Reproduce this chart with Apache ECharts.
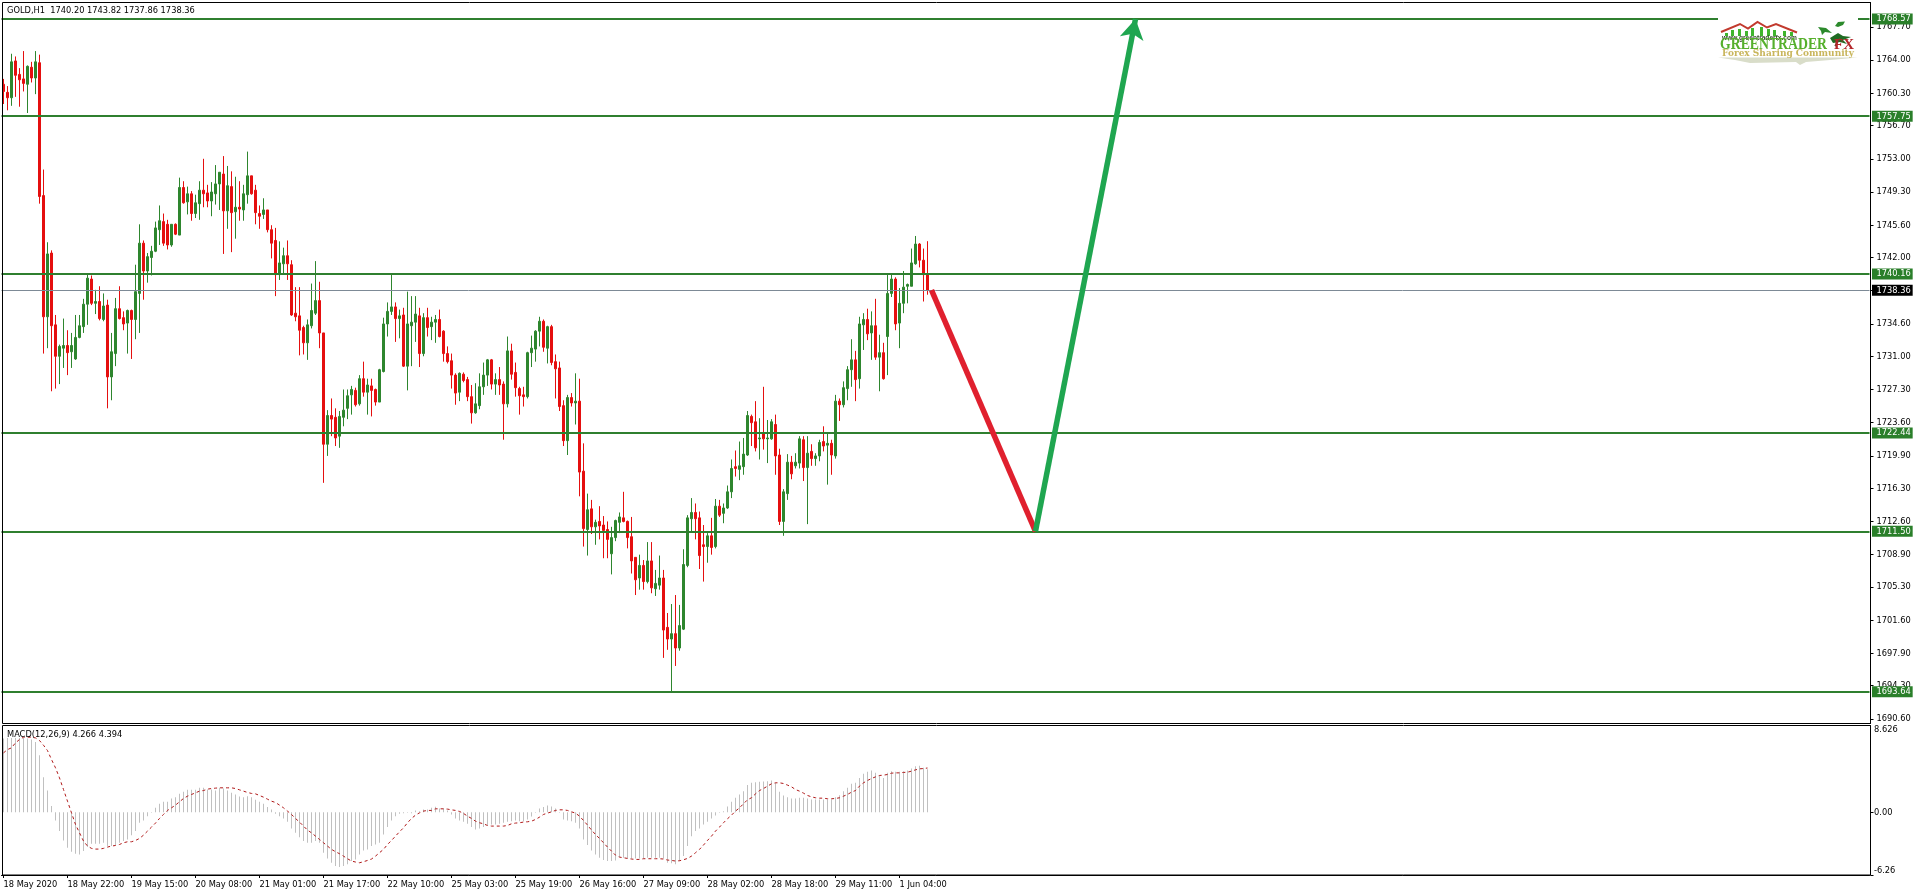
<!DOCTYPE html>
<html><head><meta charset="utf-8">
<style>html,body{margin:0;padding:0;background:#fff}#c{width:1916px;height:896px}</style>
<script src="https://cdn.jsdelivr.net/npm/echarts@6/dist/echarts.min.js"></script>
</head><body><div id="c"></div>
<script>
const opens=[
1761.3,1760.4,1759.8,1763.9,1762.4,1761.9,1761.3,1763.2,1762.0,1763.7,
1748.9,1735.4,1742.5,1734.5,1731.0,1731.9,1732.2,1731.5,1730.7,1733.1,
1734.3,1736.8,1739.6,1736.9,1737.1,1735.1,1736.7,1728.7,1731.3,1736.3,
1735.3,1734.7,1736.1,1735.1,1738.0,1743.6,1740.5,1742.0,1742.7,1745.1,
1746.0,1745.7,1743.4,1745.7,1744.5,1749.8,1748.2,1749.1,1746.9,1748.0,
1749.5,1749.2,1748.3,1749.1,1750.2,1751.3,1747.2,1749.9,1747.1,1747.6,
1747.3,1749.0,1751.1,1749.5,1746.9,1746.8,1747.3,1745.1,1743.9,1740.1,
1741.3,1742.2,1741.2,1735.8,1735.5,1734.2,1732.5,1734.4,1735.8,1737.2,
1733.6,1721.2,1724.4,1724.2,1722.1,1724.2,1725.2,1726.7,1727.2,1725.7,
1728.5,1727.0,1727.7,1727.3,1725.9,1729.3,1734.6,1736.0,1736.5,1735.2,
1735.6,1729.9,1734.4,1734.8,1735.5,1731.3,1735.3,1734.3,1734.8,1735.1,
1733.8,1731.3,1730.5,1728.9,1727.0,1729.0,1728.4,1726.5,1724.7,1725.5,
1727.6,1728.9,1730.6,1727.9,1728.4,1727.9,1725.7,1731.6,1729.2,1727.4,
1726.7,1726.5,1731.4,1731.8,1733.8,1734.9,1731.9,1734.3,1730.4,1729.7,
1725.5,1721.6,1726.4,1725.8,1726.0,1718.2,1711.7,1714.0,1712.0,1712.6,
1712.2,1711.7,1709.0,1710.8,1712.5,1713.0,1712.6,1710.9,1708.6,1706.3,
1707.7,1705.9,1708.2,1705.1,1705.5,1706.3,1700.8,1699.5,1700.1,1698.5,
1700.6,1707.7,1712.9,1713.6,1713.0,1710.0,1709.8,1711.0,1709.8,1714.3,
1713.5,1714.1,1715.9,1718.7,1718.4,1718.7,1720.0,1724.3,1723.7,1721.8,
1722.4,1721.8,1721.8,1723.4,1720.0,1712.6,1715.7,1719.2,1718.8,1719.1,
1721.7,1718.6,1720.4,1719.6,1719.9,1721.5,1721.1,1721.3,1719.9,1726.0,
1725.6,1727.4,1729.5,1730.6,1728.5,1734.5,1735.1,1733.6,1734.4,1730.9,
1731.4,1733.2,1738.0,1739.6,1734.7,1736.9,1738.8,1738.8,1741.3,1743.5,1741.7,1740.20];
const closes=[
1760.5,1759.8,1763.8,1762.3,1761.8,1761.4,1763.3,1762.0,1763.8,1748.8,
1735.4,1742.4,1734.4,1731.0,1732.1,1732.2,1731.4,1732.2,1733.1,1734.4,
1736.8,1739.7,1736.9,1737.1,1735.2,1736.6,1728.7,1731.5,1736.3,1735.2,
1734.6,1736.1,1735.1,1738.2,1743.6,1740.5,1742.1,1742.7,1745.3,1746.1,
1743.6,1743.4,1745.7,1744.6,1749.8,1748.1,1749.1,1746.9,1748.1,1749.5,
1749.1,1748.3,1749.3,1750.2,1751.5,1747.2,1750.0,1747.0,1747.6,1747.4,
1749.1,1751.1,1749.1,1747.0,1746.6,1747.3,1745.1,1743.6,1740.1,1741.4,
1742.2,1741.3,1735.6,1735.4,1733.9,1732.5,1734.5,1736.1,1737.2,1733.6,
1721.2,1724.4,1724.0,1721.9,1724.3,1725.0,1726.6,1727.3,1725.6,1728.5,
1727.0,1727.8,1727.2,1725.9,1729.5,1734.6,1736.0,1736.5,1735.2,1735.5,
1729.9,1734.6,1734.8,1735.7,1731.3,1735.3,1734.2,1734.8,1735.1,1733.2,
1731.3,1730.4,1728.9,1726.9,1729.1,1728.3,1726.5,1724.7,1725.7,1727.6,
1728.9,1730.6,1727.9,1728.4,1727.8,1725.7,1731.6,1729.0,1727.5,1726.6,
1726.5,1731.4,1731.9,1733.8,1734.9,1732.0,1734.3,1730.3,1729.6,1725.4,
1721.6,1726.4,1725.8,1726.0,1718.1,1711.8,1713.9,1712.0,1712.5,1712.1,
1711.6,1710.6,1710.8,1712.7,1713.1,1712.6,1710.8,1708.2,1706.1,1707.7,
1705.9,1708.2,1705.2,1705.7,1706.3,1700.5,1699.5,1700.1,1698.5,1701.0,
1707.8,1713.0,1713.6,1712.9,1708.8,1709.8,1711.0,1709.7,1714.3,1713.3,
1714.1,1715.9,1718.5,1718.5,1718.8,1720.1,1724.4,1723.6,1720.8,1721.9,
1721.8,1721.9,1723.7,1719.9,1712.6,1715.9,1719.2,1717.9,1719.2,1721.8,
1718.6,1720.2,1719.6,1719.9,1721.4,1721.0,1721.3,1720.0,1726.0,1725.6,
1727.5,1729.5,1730.6,1728.4,1734.6,1735.1,1733.5,1734.4,1730.9,1731.4,
1728.5,1738.0,1739.6,1734.6,1736.9,1738.7,1739.0,1741.4,1743.5,1741.7,1740.1,1738.36];
const lows=[
1759.1,1758.4,1758.9,1759.9,1758.8,1760.5,1758.1,1761.5,1760.2,1748.0,
1731.3,1731.9,1727.1,1727.4,1727.9,1729.7,1728.9,1729.7,1730.6,1733.0,
1733.6,1734.5,1736.7,1735.7,1735.0,1734.9,1725.2,1726.1,1729.9,1735.1,
1733.9,1731.3,1730.7,1732.9,1733.6,1737.3,1739.2,1740.0,1742.6,1743.4,
1743.3,1742.9,1743.2,1744.5,1744.5,1748.0,1746.8,1746.1,1746.4,1746.2,
1747.6,1747.6,1746.6,1747.9,1747.3,1742.4,1745.2,1742.6,1744.1,1746.1,
1746.1,1748.0,1749.0,1745.7,1745.2,1746.3,1744.8,1741.9,1737.7,1739.5,
1740.2,1739.5,1735.5,1734.9,1731.1,1731.2,1730.6,1734.1,1735.6,1731.9,
1716.9,1719.9,1722.1,1721.0,1720.8,1723.2,1724.0,1724.5,1725.4,1725.5,
1726.5,1724.5,1724.3,1725.5,1725.9,1729.2,1733.2,1735.6,1732.6,1733.0,
1729.8,1727.2,1729.9,1732.6,1729.8,1731.0,1733.2,1732.8,1732.5,1733.1,
1730.4,1730.2,1727.4,1725.6,1726.0,1728.1,1726.0,1723.5,1724.6,1725.1,
1726.7,1727.7,1727.3,1726.7,1726.7,1721.7,1725.3,1728.4,1726.5,1724.5,
1725.4,1726.3,1729.8,1730.4,1732.1,1731.5,1730.2,1730.0,1726.3,1724.9,
1721.0,1720.0,1725.4,1723.4,1715.4,1709.8,1708.8,1711.2,1710.0,1710.6,
1708.5,1708.5,1706.7,1710.4,1711.3,1712.5,1709.6,1706.8,1704.4,1705.0,
1705.0,1705.7,1704.6,1704.3,1705.0,1697.4,1698.3,1693.7,1696.5,1698.2,
1700.5,1707.5,1711.5,1710.6,1707.3,1705.9,1708.0,1708.9,1709.6,1713.1,
1712.4,1714.0,1715.2,1717.6,1717.2,1717.8,1719.9,1721.0,1720.4,1719.5,
1720.6,1719.1,1721.7,1717.8,1712.2,1711.0,1715.0,1717.3,1718.5,1718.5,
1717.1,1712.3,1718.8,1718.8,1719.3,1720.4,1716.7,1717.8,1719.6,1723.8,
1725.3,1726.1,1727.6,1726.0,1727.4,1731.7,1732.8,1730.6,1730.6,1727.1,
1728.4,1728.9,1737.6,1733.9,1731.9,1735.8,1736.9,1738.8,1741.2,1740.9,1737.1,1737.86];
const highs=[
1761.9,1761.1,1764.7,1764.4,1763.1,1765.0,1763.4,1763.8,1765.0,1764.6,
1751.8,1743.7,1742.8,1735.6,1732.3,1735.2,1733.9,1733.6,1735.6,1735.6,
1737.4,1740.1,1740.0,1738.4,1738.8,1738.0,1737.3,1733.6,1737.5,1738.8,
1736.0,1736.2,1736.2,1741.2,1745.7,1743.9,1742.5,1743.3,1746.0,1747.8,
1746.9,1746.2,1745.7,1745.8,1750.9,1750.5,1749.9,1749.4,1749.0,1750.5,
1753.0,1750.1,1750.4,1752.3,1751.5,1753.3,1752.2,1751.6,1751.0,1750.5,
1750.1,1753.8,1751.1,1750.1,1747.8,1748.6,1747.3,1745.6,1745.3,1743.8,
1743.1,1743.9,1741.7,1738.7,1738.7,1734.4,1735.1,1739.1,1741.6,1739.3,
1733.6,1725.0,1726.3,1725.2,1724.9,1727.3,1727.3,1727.7,1727.5,1728.9,
1730.4,1728.5,1728.5,1727.4,1729.6,1735.3,1737.0,1740.2,1737.0,1736.2,
1736.4,1738.2,1737.7,1737.7,1736.4,1735.8,1736.4,1735.4,1735.6,1736.2,
1733.9,1732.1,1731.3,1729.1,1729.2,1729.2,1728.7,1727.8,1728.0,1729.1,
1730.3,1730.7,1730.7,1729.1,1729.8,1728.2,1733.2,1732.4,1730.3,1727.6,
1727.6,1731.5,1733.3,1733.9,1735.4,1735.1,1734.4,1734.5,1731.2,1730.4,
1726.1,1726.7,1726.9,1729.1,1728.5,1721.3,1715.7,1715.0,1712.8,1714.3,
1713.2,1712.6,1712.0,1712.8,1713.6,1715.9,1712.7,1713.1,1708.6,1708.9,
1708.3,1710.3,1710.3,1707.2,1708.8,1707.2,1702.4,1703.4,1704.4,1703.3,
1709.5,1713.3,1715.2,1714.6,1713.7,1712.2,1711.3,1713.0,1715.1,1715.0,
1714.6,1716.6,1719.5,1720.5,1721.5,1721.9,1724.9,1724.5,1726.0,1724.1,
1727.6,1723.9,1724.0,1724.5,1720.7,1716.2,1720.1,1719.9,1720.2,1722.1,
1722.1,1722.1,1721.2,1720.2,1721.7,1723.2,1722.4,1721.7,1726.7,1726.3,
1728.2,1729.9,1732.9,1731.6,1735.4,1735.8,1736.3,1736.0,1737.4,1733.4,
1732.5,1740.1,1740.1,1739.8,1738.6,1740.5,1739.1,1743.0,1744.4,1743.6,1743.0,1743.82];
const macdHist=[
7.33,7.39,7.39,7.39,7.39,7.39,7.33,7.23,6.99,5.67,
3.48,2.15,0.60,-0.83,-1.89,-2.82,-3.55,-3.94,-4.14,-4.21,
-3.88,-3.48,-3.15,-3.15,-3.15,-3.05,-3.38,-3.38,-3.28,-3.05,
-2.88,-2.72,-2.29,-1.89,-1.06,-0.83,-0.40,-0.07,0.43,0.83,
1.03,1.03,1.36,1.49,1.82,2.02,2.22,2.22,2.22,2.42,
2.42,2.25,2.25,2.15,2.42,2.35,2.15,1.92,1.76,1.56,
1.49,1.59,1.49,1.23,1.03,0.83,0.50,0.27,-0.17,-0.40,
-0.63,-0.96,-1.62,-2.06,-2.49,-2.88,-3.05,-3.05,-2.88,-3.05,
-4.04,-4.61,-5.04,-5.37,-5.47,-5.37,-5.20,-4.87,-4.71,-4.21,
-3.81,-3.71,-3.38,-3.22,-3.05,-2.22,-1.49,-0.83,-0.40,-0.17,
-0.10,-0.07,-0.10,0.17,0.10,0.27,0.27,0.43,0.53,0.36,
0.36,0.17,-0.23,-0.63,-0.83,-0.96,-1.16,-1.49,-1.72,-1.62,
-1.49,-1.29,-1.23,-1.23,-1.16,-1.06,-0.96,-0.90,-0.83,-0.90,
-0.90,-0.73,-0.43,-0.07,0.36,0.50,0.66,0.56,0.36,-0.07,
-0.73,-0.83,-0.90,-1.06,-1.62,-2.72,-3.28,-3.81,-4.21,-4.54,
-4.77,-4.87,-4.87,-4.81,-4.48,-4.54,-4.61,-4.61,-4.61,-4.61,
-4.61,-4.54,-4.54,-4.54,-4.54,-4.61,-5.04,-5.10,-5.20,-4.87,
-4.38,-3.38,-2.39,-1.89,-1.62,-1.23,-0.96,-0.63,-0.33,-0.07,
0.10,0.56,1.03,1.43,1.76,2.09,2.69,2.92,2.98,3.02,
3.05,3.08,3.15,2.92,2.02,1.66,1.49,1.36,1.36,1.43,
1.43,1.36,1.26,1.26,1.26,1.26,1.26,1.26,1.49,1.69,
2.09,2.42,2.82,2.92,3.41,3.81,4.01,4.14,3.91,3.68,
3.41,3.91,4.08,4.01,4.01,4.08,4.14,4.34,4.57,4.61,
4.41,4.266];
const macdSignal=[
5.90,6.23,6.40,6.90,7.23,7.46,7.46,7.46,7.39,7.13,
6.66,6.13,5.24,4.41,3.41,2.25,1.09,-0.07,-1.23,-2.06,
-2.88,-3.38,-3.61,-3.68,-3.68,-3.61,-3.48,-3.38,-3.32,-3.22,
-3.05,-2.95,-2.95,-2.82,-2.62,-2.29,-1.89,-1.49,-1.09,-0.63,
-0.23,0.17,0.43,0.70,1.03,1.36,1.59,1.76,1.92,2.09,
2.15,2.29,2.35,2.39,2.42,2.42,2.42,2.42,2.35,2.22,
2.09,1.96,1.86,1.82,1.66,1.49,1.29,1.09,0.96,0.70,
0.43,0.10,-0.23,-0.63,-0.99,-1.39,-1.79,-2.06,-2.39,-2.72,
-3.05,-3.38,-3.71,-3.94,-4.14,-4.38,-4.64,-4.87,-4.97,-5.04,
-4.94,-4.81,-4.67,-4.38,-4.04,-3.71,-3.22,-2.82,-2.39,-1.96,
-1.56,-1.06,-0.63,-0.30,-0.07,0.10,0.17,0.17,0.33,0.33,
0.33,0.30,0.23,0.17,0.07,-0.13,-0.40,-0.63,-0.90,-1.06,
-1.16,-1.33,-1.39,-1.39,-1.39,-1.39,-1.33,-1.16,-1.09,-1.06,
-0.99,-0.96,-0.90,-0.73,-0.50,-0.23,-0.10,0.03,0.17,0.23,
0.23,0.17,0.03,-0.10,-0.40,-0.83,-1.29,-1.79,-2.22,-2.62,
-3.05,-3.48,-3.88,-4.28,-4.48,-4.54,-4.61,-4.67,-4.71,-4.71,
-4.64,-4.64,-4.64,-4.64,-4.64,-4.67,-4.77,-4.81,-4.87,-4.84,
-4.74,-4.61,-4.38,-4.04,-3.71,-3.28,-2.82,-2.39,-1.89,-1.49,
-1.06,-0.66,-0.30,0.10,0.43,0.83,1.23,1.43,1.82,2.15,
2.35,2.59,2.82,2.92,2.92,2.85,2.69,2.52,2.25,2.09,
1.89,1.66,1.52,1.43,1.39,1.39,1.33,1.33,1.36,1.43,
1.59,1.76,1.99,2.15,2.59,2.92,3.15,3.35,3.51,3.65,
3.68,3.75,3.88,3.91,3.91,3.95,3.98,4.08,4.21,4.31,
4.34,4.394];
const timeLabels=["18 May 2020","18 May 22:00","19 May 15:00","20 May 08:00","21 May 01:00","21 May 17:00","22 May 10:00","25 May 03:00","25 May 19:00","26 May 16:00","27 May 09:00","28 May 02:00","28 May 18:00","29 May 11:00","1 Jun 04:00"];
const priceTicks=[1690.60,1694.30,1697.90,1701.60,1705.30,1708.90,1712.60,1716.30,1719.90,1723.60,1727.30,1731.00,1734.60,1738.30,1742.00,1745.60,1749.30,1753.00,1756.70,1760.30,1764.00,1767.70];
const levels=[1768.57,1757.75,1740.16,1722.44,1711.50,1693.64];
const lastPrice=1738.36;
const arrowDown=[[232,1738.36],[258,1711.50]];
const arrowUp=[[258,1711.50],[283,1768.57]];
const macdTicks=[-6.26,0,8.626];

const SLOTS=467, STEP=16;
const cats=Array.from({length:SLOTS},(_,i)=> (i%STEP===0 && timeLabels[i/STEP])||'');
const ohlc=opens.map((o,i)=>[o,closes[i],lows[i],highs[i]]);
const FONT='"DejaVu Sans Condensed","Liberation Sans"';
const SANS='"Liberation Sans"';
const FS=9.2;
const GREEN='#2f7f2f', UP='#2e862e', DOWN='#e50f0f';
const tag=(bg)=>({show:true,position:'end',distance:2.5,color:'#fff',backgroundColor:bg,fontFamily:FONT,fontSize:FS,lineHeight:11,padding:[0,2,0,4.5],formatter:p=>p.value.toFixed(2)});
const txt=(x,y,text,font,fill,extra)=>Object.assign({type:'text',z:120,silent:true,style:{x,y,text,font,fill,verticalAlign:'middle'}},extra||{});
const poly=(points,fill)=>({type:'polygon',z:115,silent:true,shape:{points},style:{fill}});
const colH=[[1725,33,3],[1731,30,3],[1738,29,3],[1745,31,3],[1751,28,3],[1760,27,3],[1767,29,3],[1773,30,3],[1783,31,3],[1790,32,3]];

const logo=[
 {type:'rect',z:110,silent:true,shape:{x:1718,y:14,width:140,height:52},style:{fill:'#fff'}},
 poly([[1718,57.5],[1858,57.5],[1830,60],[1806,62],[1800,65],[1796,62],[1750,63],[1735,60]],'#d9ddc9'),
 {type:'polyline',z:116,silent:true,shape:{points:[[1721,32],[1740,24],[1748,28.5],[1757.5,22],[1767,27.5],[1776,24],[1797,32.5]]},style:{stroke:'#c23a2e',lineWidth:2,fill:'none'}},
 ...colH.map(c=>({type:'rect',z:115,silent:true,shape:{x:c[0],y:c[1],width:c[2],height:36-c[1]},style:{fill:'#3fb52d'}})),
 txt(1722,38.5,'www.greentraderfx.com','bold 6.6px '+SANS,'#35502a'),
 {type:'text',z:120,silent:true,x:1720,y:45,scaleX:0.86,style:{x:0,y:0,text:'GREENTRADER',font:'bold 16px "Liberation Serif"',fill:'#56b02c',verticalAlign:'middle'}},
 txt(1834,45,'FX','bold 15px "Liberation Serif"','#b3262a'),
 txt(1722,54,'Forex Sharing Community','bold 9px "DejaVu Serif"','#c9b65c'),
 poly([[1818,27],[1826,28],[1832,33],[1825,32],[1822,35],[1821,31]],'#2c8a2c'),
 poly([[1835,26],[1838,22],[1845,21.5],[1843,25],[1838,27]],'#2c8a2c'),
 poly([[1830,38],[1838,33],[1843,36],[1851,37],[1843,40],[1847,44],[1840,42],[1833,43]],'#1f6b22'),
 {type:'line',z:115,silent:true,shape:{x1:1835,y1:46,x2:1840,y2:38},style:{stroke:'#5a4a2a',lineWidth:1.5}}
];

const chart=echarts.init(document.getElementById('c'),null,{renderer:'canvas'});
chart.setOption({
 animation:false,backgroundColor:'#fff',
 grid:[{left:1.5,width:1868,top:2.5,height:721,containLabel:false},{left:1.5,width:1868,top:725.5,height:149.5,containLabel:false}],
 xAxis:[
  {type:'category',gridIndex:0,data:cats,show:false,boundaryGap:true},
  {type:'category',gridIndex:1,data:cats,boundaryGap:true,
   axisLine:{show:true,onZero:false,lineStyle:{color:'#000',width:1}},
   axisTick:{show:true,length:3,alignWithLabel:true,interval:(i,v)=>v!=='',lineStyle:{color:'#000'}},
   axisLabel:{show:true,interval:(i,v)=>v!=='',align:'left',margin:5,color:'#000',fontFamily:FONT,fontSize:FS},
   splitLine:{show:false}}
 ],
 yAxis:[
  {type:'value',gridIndex:0,position:'right',offset:1,min:1690.09,max:1770.41,
   axisLine:{show:true,lineStyle:{color:'#000'}},splitLine:{show:false},
   axisTick:{show:true,length:3,customValues:priceTicks,lineStyle:{color:'#000'}},
   axisLabel:{show:true,customValues:priceTicks,margin:6,color:'#000',fontFamily:FONT,fontSize:FS,formatter:v=>v.toFixed(2)}},
  {type:'value',gridIndex:1,position:'right',offset:1,min:-6.26,max:8.626,
   axisLine:{show:true,onZero:false,lineStyle:{color:'#000'}},splitLine:{show:false},
   axisTick:{show:true,length:3,customValues:[0,-6.26],lineStyle:{color:'#000'}},
   axisLabel:{show:true,customValues:macdTicks,margin:3.5,color:'#000',fontFamily:FONT,fontSize:FS,verticalAlignMaxLabel:'top',verticalAlignMinLabel:'bottom',
     formatter:v=>v===8.626?'8.626':v.toFixed(2)}}
 ],
 series:[
  {type:'candlestick',xAxisIndex:0,yAxisIndex:0,data:ohlc,barWidth:2,
   itemStyle:{color:UP,color0:DOWN,borderColor:UP,borderColor0:DOWN,borderWidth:1},
   markLine:{silent:true,symbol:'none',animation:false,
    data:[
     ...levels.map(v=>({yAxis:v,lineStyle:{color:GREEN,width:2,type:'solid'},label:tag('#2a7f2a')})),
     {yAxis:lastPrice,lineStyle:{color:'#7d8a96',width:1,type:'solid'},label:tag('#000')}
    ]}},
  {type:'line',xAxisIndex:0,yAxisIndex:0,data:[],silent:true,
   markLine:{silent:true,animation:false,symbol:'none',label:{show:false},lineStyle:{color:'#e0202e',width:5.5,type:'solid'},
    data:[[{coord:arrowDown[0]},{coord:arrowDown[1]}]]}},
  {type:'line',xAxisIndex:0,yAxisIndex:0,data:[],silent:true,
   markLine:{silent:true,animation:false,symbol:['none','arrow'],symbolSize:[18,20],label:{show:false},lineStyle:{color:'#1fa650',width:5.5,type:'solid'},
    data:[[{coord:arrowUp[0]},{coord:arrowUp[1]}]]}},
  {type:'bar',xAxisIndex:1,yAxisIndex:1,data:macdHist,barWidth:1,itemStyle:{color:'#c0c0c0'},silent:true},
  {type:'line',xAxisIndex:1,yAxisIndex:1,data:macdSignal,symbol:'none',silent:true,z:5,lineStyle:{color:'#b01818',width:1,type:[3,3]}}
 ],
 graphic:[
  {type:'rect',z:100,silent:true,shape:{x:2.5,y:2.5,width:1868,height:721},style:{fill:'none',stroke:'#000',lineWidth:1}},
  {type:'rect',z:100,silent:true,shape:{x:2.5,y:725.5,width:1868,height:149.5},style:{fill:'none',stroke:'#000',lineWidth:1}},
  txt(7,10.7,'GOLD,H1  1740.20 1743.82 1737.86 1738.36','9.2px '+FONT,'#000'),
  txt(7,734.7,'MACD(12,26,9) 4.266 4.394','9.2px '+FONT,'#000'),
  ...logo
 ]
});
</script></body></html>
